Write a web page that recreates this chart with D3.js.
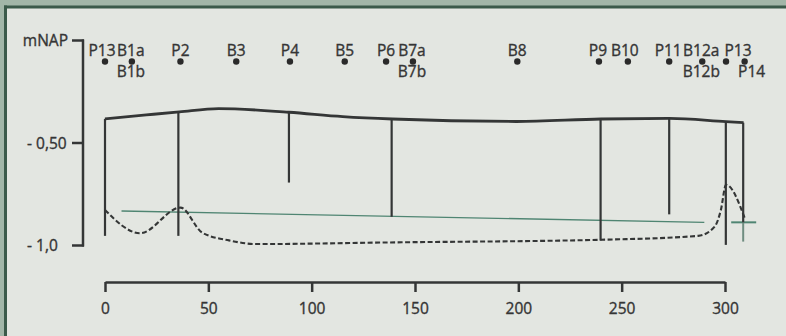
<!DOCTYPE html>
<html lang="nl">
<head>
<meta charset="UTF-8">
<title>Dwarsprofiel</title>
<script src="https://cdn.jsdelivr.net/npm/d3@7"></script>
<style>
body{margin:0;background:#e3e6e1;overflow:hidden;}
text{font-family:"Open Sans",sans-serif;font-size:15.5px;fill:#353535;stroke:#353535;stroke-width:0.35px;}
</style>
</head>
<body>
<script>
// meetpunten boven de grafiek
var stationDist = [0, 13, 36.5, 63.5, 89.5, 116, 136, 149, 199.5, 239, 253, 273, 289, 300.5, 309.5];
var labelTop = ["P13","B1a","P2","B3","P4","B5","P6","B7a","B8","P9","B10","P11","B12a","P13",""];
var labelBottom = ["","B1b","","","","","","B7b","","","","","B12b","","P14"];

// bovenkant (doorgetrokken lijn)
var crestDist = [0, 20, 36, 55, 89, 115, 139, 199, 240, 273, 300.5, 309];
var crestLevel = [-0.382, -0.363, -0.348, -0.332, -0.350, -0.371, -0.383, -0.395, -0.383, -0.380, -0.396, -0.401];

// verticale lijnen: positie en diepte
var pileDist = [0, 35.5, 89, 138.7, 239.8, 273, 300.4, 308.8];
var pileTip = [-0.953, -0.953, -0.693, -0.860, -0.976, -0.848, -0.997, -0.887];

// gestippelde lijn
var dashDist = [0, 17, 36.5, 47, 60, 73, 138, 240, 287, 295, 298, 300.5, 309.5];
var dashLevel = [-0.827, -0.940, -0.815, -0.937, -0.975, -0.993, -0.985, -0.972, -0.953, -0.908, -0.827, -0.704, -0.866];

// groene lijn + kruis
var greenDist = [8, 290];
var greenLevel = [-0.832, -0.887];
var markDist = 308.8;
var markLevel = -0.887;
var markTip = -0.981;

var xTicks = [0, 50, 100, 150, 200, 250, 300];
var yTicks = [0, -0.5, -1.0];
var yTickLabels = ["mNAP", "- 0,50", "- 1,0"];

var width = 786, height = 336;
var dark = "#343636", green = "#4f8572";

var svg = d3.select("body").append("svg").attr("width", width).attr("height", height);

// kader
svg.append("rect").attr("width", width).attr("height", height).attr("fill", "#e3e6e1");
svg.append("rect").attr("x", 0).attr("y", 0).attr("width", width).attr("height", 6).attr("fill", "#a2b6a8");
svg.append("rect").attr("x", 0).attr("y", 0).attr("width", 4).attr("height", height).attr("fill", "#a2b6a8");
svg.append("rect").attr("x", 4).attr("y", 5.5).attr("width", width).attr("height", 3).attr("fill", "#3b5a4a");
svg.append("rect").attr("x", 4).attr("y", 5.5).attr("width", 3).attr("height", height).attr("fill", "#3b5a4a");

var x = d3.scaleLinear().domain([0, 300]).range([105, 725]);
var y = d3.scaleLinear().domain([0, -1]).range([40.5, 245.5]);

// y-as
svg.append("line").attr("x1", 83).attr("x2", 83).attr("y1", y(0) - 1).attr("y2", y(-1) + 1)
	.attr("stroke", dark).attr("stroke-width", 2.5);
svg.selectAll(".ytick").data(yTicks).enter().append("line").attr("class", "ytick")
	.attr("x1", 72).attr("x2", 84).attr("y1", function(d){return y(d);}).attr("y2", function(d){return y(d);})
	.attr("stroke", dark).attr("stroke-width", 2.5);
svg.selectAll(".ylab").data(yTicks).enter().append("text").attr("class", "ylab")
	.attr("x", function(d, i){return i == 0 ? 68 : 27;})
	.attr("text-anchor", function(d, i){return i == 0 ? "end" : "start";})
	.attr("y", function(d){return y(d);}).attr("dy", "0.36em")
	.text(function(d, i){return yTickLabels[i];});

// x-as
var xAxis = svg.append("g").attr("transform", "translate(0,282)")
	.call(d3.axisBottom(x).tickValues(xTicks).tickSize(10).tickSizeOuter(0).tickPadding(11));
xAxis.attr("font-size", null).attr("font-family", null);
xAxis.select(".domain").attr("stroke", dark).attr("stroke-width", 2.5);
xAxis.selectAll(".tick line").attr("stroke", dark).attr("stroke-width", 2.5);
xAxis.selectAll(".tick text").attr("fill", null);

// meetpunten
var labelDx = [-3, -1, 0, 0, 0, 0, 0, -1, 0, -1, -3, -1, -1, 12, 7];
svg.selectAll(".dot").data(stationDist).enter().append("circle").attr("class", "dot")
	.attr("cx", function(d){return x(d);}).attr("cy", 61.5).attr("r", 3.2).attr("fill", "#2a2a2a");
svg.selectAll(".ltop").data(stationDist).enter().append("text").attr("class", "ltop")
	.attr("x", function(d, i){return x(d) + labelDx[i];}).attr("y", 55.5).attr("text-anchor", "middle")
	.text(function(d, i){return labelTop[i];});
svg.selectAll(".lbot").data(stationDist).enter().append("text").attr("class", "lbot")
	.attr("x", function(d, i){return x(d) + labelDx[i];}).attr("y", 76.5).attr("text-anchor", "middle")
	.text(function(d, i){return labelBottom[i];});

// groene lijn
svg.append("line").attr("x1", x(greenDist[0])).attr("y1", y(greenLevel[0]))
	.attr("x2", x(greenDist[1])).attr("y2", y(greenLevel[1]))
	.attr("stroke", green).attr("stroke-width", 1.4);
svg.append("line").attr("x1", x(markDist) - 12).attr("x2", x(markDist) + 13)
	.attr("y1", y(markLevel)).attr("y2", y(markLevel)).attr("stroke", green).attr("stroke-width", 2);
svg.append("line").attr("x1", x(markDist)).attr("x2", x(markDist))
	.attr("y1", y(markLevel)).attr("y2", y(markTip)).attr("stroke", "#6f8d80").attr("stroke-width", 2);

// verticale lijnen
var crestAt = d3.scaleLinear().domain(crestDist).range(crestLevel);
svg.selectAll(".pile").data(pileDist).enter().append("line").attr("class", "pile")
	.attr("x1", function(d){return x(d);}).attr("x2", function(d){return x(d);})
	.attr("y1", function(d){return y(crestAt(d));})
	.attr("y2", function(d, i){return y(pileTip[i]);})
	.attr("stroke", dark).attr("stroke-width", 2.2);

// bovenlijn
var crestLine = d3.line().x(function(d){return x(d[0]);}).y(function(d){return y(d[1]);}).curve(d3.curveMonotoneX);
svg.append("path").datum(d3.zip(crestDist, crestLevel)).attr("d", crestLine)
	.attr("fill", "none").attr("stroke", dark).attr("stroke-width", 2.8).attr("stroke-linejoin", "round");

// gestippelde lijn
var dashLine = d3.line().x(function(d){return x(d[0]);}).y(function(d){return y(d[1]);}).curve(d3.curveMonotoneX);
svg.append("path").datum(d3.zip(dashDist, dashLevel)).attr("d", dashLine)
	.attr("fill", "none").attr("stroke", dark).attr("stroke-width", 2.1).attr("stroke-dasharray", "5,2.5");
</script>
</body>
</html>
